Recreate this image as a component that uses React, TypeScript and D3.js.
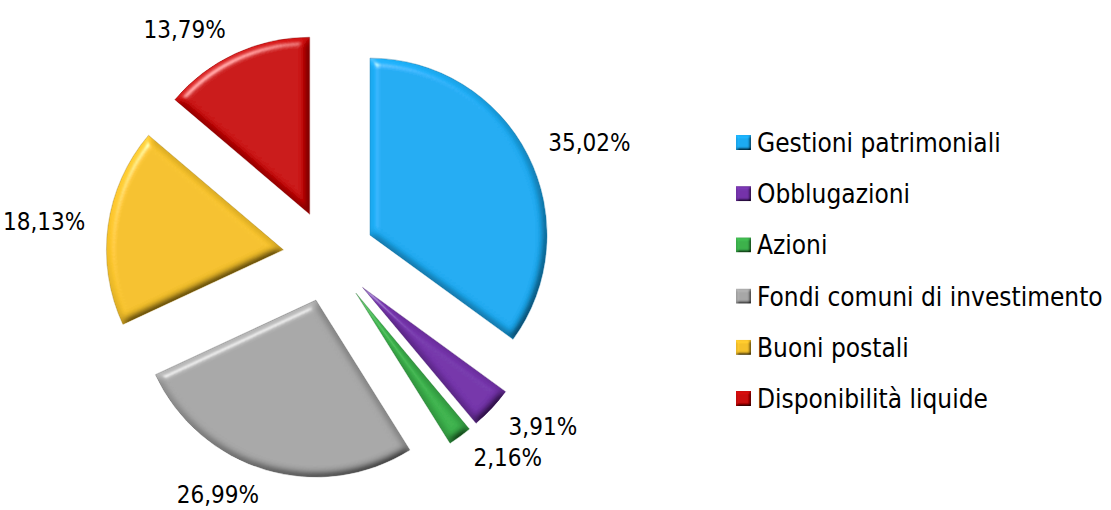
import React from "react";
import * as d3 from "d3";

const categories = [
  "Gestioni patrimoniali",
  "Obblugazioni",
  "Azioni",
  "Fondi comuni di investimento",
  "Buoni postali",
  "Disponibilità liquide",
];
const values = [35.02, 3.91, 2.16, 26.99, 18.13, 13.79];
const labels = ["35,02%", "3,91%", "2,16%", "26,99%", "18,13%", "13,79%"];
const colors = ["#1CABF2", "#7433AA", "#3CB24C", "#A7A7A7", "#F5C12B", "#CA0808"];

const W = 1111;
const H = 510;
const cx = 329;
const cy = 256;
const R = 177;
const explode = 46;
const FONT = "'DejaVu Sans Condensed', 'DejaVu Sans', sans-serif";

export default function App() {
  const pie = d3.pie<number>().sort(null).value((d) => d);
  const arcs = pie(values);
  const arc = d3.arc<d3.PieArcDatum<number>>().innerRadius(0).outerRadius(R);
  const legendY = d3.scalePoint<string>().domain(categories).range([142, 398]);

  return (
    <div style={{ position: "absolute", left: 0, top: 0 }}>
      <svg width={W} height={H} style={{ display: "block", background: "#fff" }}>
        <defs>
          <filter id="bevel" x="-10%" y="-10%" width="120%" height="120%">
            <feGaussianBlur in="SourceAlpha" stdDeviation="4.5" result="blur" />
            <feDiffuseLighting in="blur" surfaceScale="6" diffuseConstant="1" lightingColor="#ffffff" result="diff">
              <feDistantLight azimuth="235" elevation="55" />
            </feDiffuseLighting>
            <feComposite in="SourceGraphic" in2="diff" operator="arithmetic" k1="1.22" k2="0" k3="0" k4="0" result="lit" />
            <feSpecularLighting in="blur" surfaceScale="6" specularConstant="0.6" specularExponent="40" lightingColor="#ffffff" result="spec">
              <feDistantLight azimuth="235" elevation="40" />
            </feSpecularLighting>
            <feComposite in="spec" in2="SourceAlpha" operator="in" result="specIn" />
            <feComposite in="lit" in2="specIn" operator="arithmetic" k1="0" k2="1" k3="0.6" k4="0" result="out" />
            <feComposite in="out" in2="SourceAlpha" operator="in" />
          </filter>
          <filter id="bevelSmall" x="-20%" y="-20%" width="140%" height="140%">
            <feGaussianBlur in="SourceAlpha" stdDeviation="1.5" result="blur" />
            <feDiffuseLighting in="blur" surfaceScale="3" diffuseConstant="1" lightingColor="#ffffff" result="diff">
              <feDistantLight azimuth="235" elevation="55" />
            </feDiffuseLighting>
            <feComposite in="SourceGraphic" in2="diff" operator="arithmetic" k1="1.22" k2="0" k3="0" k4="0" result="lit" />
            <feComposite in="lit" in2="SourceAlpha" operator="in" />
          </filter>
        </defs>
        {arcs.map((a, i) => {
          const mid = (a.startAngle + a.endAngle) / 2;
          const ux = Math.sin(mid);
          const uy = -Math.cos(mid);
          const ox = cx + explode * ux;
          const oy = cy + explode * uy;
          return (
            <g key={i} transform={`translate(${ox},${oy})`}>
              <path d={arc(a) || ""} fill={colors[i]} filter="url(#bevel)" />
              <path d={arc(a) || ""} fill="none" stroke={d3.color(colors[i])!.darker(1).toString()} strokeWidth={0.8} strokeOpacity={0.5} />
            </g>
          );
        })}
        {arcs.map((a, i) => {
          const mid = (a.startAngle + a.endAngle) / 2;
          const ux = Math.sin(mid);
          const uy = -Math.cos(mid);
          const ox = cx + explode * ux;
          const oy = cy + explode * uy;
          const x = ox + (R + 23) * ux;
          const y = oy + (R + 23) * uy + 3.5 * uy;
          return (
            <text key={i} x={x} y={y} textAnchor={ux >= 0 ? "start" : "end"} dominantBaseline="central" fontFamily={FONT} fontSize={24} fill="#000">
              {labels[i]}
            </text>
          );
        })}
        {categories.map((c, i) => {
          const y = legendY(c)!;
          return (
            <g key={c}>
              <rect x={736} y={y - 7} width={15} height={15} fill={colors[i]} filter="url(#bevelSmall)" />
              <text x={757} y={y + 1} dominantBaseline="central" fontFamily={FONT} fontSize={26} fill="#000">
                {c}
              </text>
            </g>
          );
        })}
      </svg>
    </div>
  );
}
